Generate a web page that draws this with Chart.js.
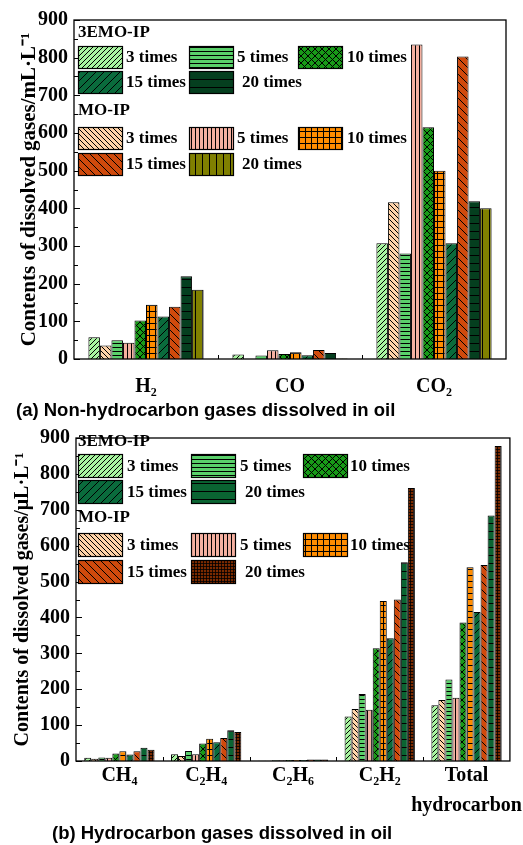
<!DOCTYPE html>
<html>
<head>
<meta charset="utf-8">
<script src="https://cdn.jsdelivr.net/npm/chart.js@4.4.1/dist/chart.umd.min.js"></script>
<style>
  body { margin: 0; background: #fff; }
  #wrap { position: relative; width: 523px; height: 845px; }
  canvas { position: absolute; left: 0; }
  .cap { position: absolute; font: bold 18.5px "Liberation Sans", Arial, sans-serif; line-height: 20px; color: #000; white-space: nowrap; }
</style>
</head>
<body>
<div id="wrap">
  <canvas id="chartA" width="523" height="400" style="top:0"></canvas>
  <div class="cap" style="left:16px;top:400px">(a) Non-hydrocarbon gases dissolved in oil</div>
  <canvas id="chartB" width="523" height="425" style="top:420px"></canvas>
  <div class="cap" style="left:52px;top:823px">(b) Hydrocarbon gases dissolved in oil</div>
</div>
<script>
// Data (a) non-hydrocarbon gases
const gasesA = ["H₂", "CO", "CO₂"];
const emo3A = [58, 12, 307];
const mo3A = [36, 0, 416];
const emo5A = [50, 9, 280];
const mo5A = [43, 23, 835];
const emo10A = [102, 13, 615];
const mo10A = [144, 18, 500];
const emo15A = [113, 10, 307];
const mo15A = [139, 24, 803];
const emo20A = [220, 16, 419];
const mo20A = [184, 1, 400];

// Data (b) hydrocarbon gases
const gasesB = ["CH₄", "C₂H₄", "C₂H₆", "C₂H₂", ["Total", "hydrocarbon"]];
const emo3B = [9, 19, 1, 124, 155];
const mo3B = [6, 14, 1, 145, 170];
const emo5B = [10, 28, 2, 187, 227];
const mo5B = [9, 19, 2, 143, 176];
const emo10B = [21, 49, 3, 314, 386];
const mo10B = [27, 62, 3, 446, 540];
const emo15B = [18, 52, 3, 342, 415];
const mo15B = [27, 64, 4, 450, 546];
const emo20B = [37, 86, 4, 554, 684];
const mo20B = [31, 81, 4, 761, 878];

const times = ["3 times", "5 times", "10 times", "15 times", "20 times"];
const yTicks = [0, 100, 200, 300, 400, 500, 600, 700, 800, 900];

const serif = "Liberation Serif";

function makePattern(target, bg, kind, s, lw) {
  const c = document.createElement("canvas");
  c.width = s;
  c.height = s;
  const g = c.getContext("2d");
  g.fillStyle = bg;
  g.fillRect(0, 0, s, s);
  g.strokeStyle = "#000";
  g.lineWidth = lw || 1;
  g.beginPath();
  if (kind === "fwd" || kind === "cross") {
    g.moveTo(0, s); g.lineTo(s, 0);
    g.moveTo(-1, 1); g.lineTo(1, -1);
    g.moveTo(s - 1, s + 1); g.lineTo(s + 1, s - 1);
  }
  if (kind === "back" || kind === "cross") {
    g.moveTo(0, 0); g.lineTo(s, s);
    g.moveTo(-1, s - 1); g.lineTo(1, s + 1);
    g.moveTo(s - 1, -1); g.lineTo(s + 1, 1);
  }
  if (kind === "horiz" || kind === "grid") {
    g.moveTo(0, s - 0.5); g.lineTo(s, s - 0.5);
  }
  if (kind === "vert" || kind === "grid") {
    g.moveTo(s - 0.5, 0); g.lineTo(s - 0.5, s);
  }
  g.stroke();
  return target.getContext("2d").createPattern(c, "repeat");
}

// frame, inward ticks on y axis, small ticks between categories
const framePlugin = {
  id: "frame",
  afterDatasetsDraw(chart) {
    const { ctx, chartArea: a, scales } = chart;
    ctx.save();
    ctx.strokeStyle = "#000";
    ctx.lineWidth = 1.3;
    ctx.strokeRect(a.left, a.top, a.right - a.left, a.bottom - a.top);
    ctx.lineWidth = 1;
    ctx.beginPath();
    yTicks.forEach((v, i) => {
      const py = Math.round(scales.y.getPixelForValue(v)) + 0.5;
      ctx.moveTo(a.left, py);
      ctx.lineTo(a.left + 6, py);
      if (i < yTicks.length - 1) {
        const pm = Math.round(scales.y.getPixelForValue((v + yTicks[i + 1]) / 2)) + 0.5;
        ctx.moveTo(a.left, pm);
        ctx.lineTo(a.left + 4, pm);
      }
    });
    const n = chart.data.labels.length;
    const w = (a.right - a.left) / n;
    for (let i = 1; i < n; i++) {
      const px = Math.round(a.left + w * i) + 0.5;
      ctx.moveTo(px, a.bottom);
      ctx.lineTo(px, a.bottom - 4);
    }
    ctx.stroke();
    ctx.restore();
  },
};

// two-group legend drawn inside the plot
const groupLegend = {
  id: "groupLegend",
  afterDatasetsDraw(chart, args, opts) {
    const ctx = chart.ctx;
    const ds = chart.data.datasets;
    ctx.save();
    ctx.font = "bold 17px " + serif;
    ctx.textBaseline = "middle";
    ctx.textAlign = "left";
    ctx.lineWidth = 1.2;
    ctx.strokeStyle = "#000";
    opts.groups.forEach((gr) => {
      ctx.fillStyle = "#000";
      ctx.fillText(gr.name, opts.nameX, gr.y);
      gr.items.forEach((di, k) => {
        const col = k % 3;
        const row = Math.floor(k / 3);
        const bx = opts.boxX[col];
        const by = gr.rows[row];
        ctx.fillStyle = ds[di].backgroundColor;
        ctx.fillRect(bx, by, 44, opts.boxH);
        ctx.strokeRect(bx + 0.5, by + 0.5, 44, opts.boxH);
        ctx.fillStyle = "#000";
        const extra = row === 1 && col === 1 ? 5 : 0;
        ctx.fillText(times[k], opts.textX[col] + extra, by + opts.boxH / 2 + 1);
      });
    });
    ctx.restore();
  },
};

function buildChart(id, labels, series, styles, cfg) {
  const canvas = document.getElementById(id);
  const datasets = series.map((d, i) => ({
    label: (i % 2 === 0 ? "3EMO-IP " : "MO-IP ") + times[Math.floor(i / 2)],
    data: d,
    backgroundColor: makePattern(canvas, ...styles[i]),
    borderColor: "#000",
    borderWidth: 1,
  }));
  const tickFont = { family: serif, size: 20, weight: "bold" };
  return new Chart(canvas, {
    type: "bar",
    data: { labels: labels, datasets: datasets },
    options: {
      responsive: false,
      animation: false,
      layout: { padding: { top: cfg.top, right: cfg.right, left: 0, bottom: 0 } },
      datasets: { bar: { categoryPercentage: cfg.catPct, barPercentage: 1 } },
      plugins: {
        legend: { display: false },
        tooltip: { enabled: false },
        groupLegend: cfg.legend,
      },
      scales: {
        x: {
          grid: { display: false, drawTicks: false },
          border: { display: false },
          ticks: {
            color: "#000",
            padding: cfg.xPad,
            font: { ...tickFont, lineHeight: 1.5 },
            maxRotation: 0,
            autoSkip: false,
          },
          afterFit(s) { s.height = cfg.xHeight; },
        },
        y: {
          min: 0,
          max: 900,
          grid: { display: false, drawTicks: false },
          border: { display: false },
          ticks: { stepSize: 100, color: "#000", padding: 6, font: tickFont },
          title: {
            display: true,
            text: cfg.yTitle,
            color: "#000",
            font: { family: serif, size: cfg.titleSize, weight: "bold" },
            padding: { top: cfg.titlePad, bottom: 0 },
          },
          afterFit(s) { s.width = cfg.yWidth; },
        },
      },
    },
    plugins: [framePlugin, groupLegend],
  });
}

buildChart(
  "chartA",
  gasesA,
  [emo3A, mo3A, emo5A, mo5A, emo10A, mo10A, emo15A, mo15A, emo20A, mo20A],
  [
    ["#a8f5a0", "fwd", 5, 1],
    ["#ffd3a8", "back", 5, 1],
    ["#5ad06a", "horiz", 4, 1],
    ["#f5b0a0", "vert", 4, 1],
    ["#189a18", "cross", 7, 1],
    ["#ff8c00", "grid", 6, 1],
    ["#0a6b3c", "fwd", 8, 1],
    ["#d04a0c", "back", 8, 1],
    ["#053f1f", "horiz", 8, 1],
    ["#808000", "vert", 7, 1],
  ],
  {
    top: 20, right: 17, catPct: 0.8, xPad: 13, xHeight: 41, yWidth: 74, titlePad: 17, titleSize: 21,
    yTitle: "Contents of dissolved gases/mL·L⁻¹",
    legend: {
      nameX: 78, boxH: 22,
      boxX: [78, 189, 298], textX: [126, 237, 347],
      groups: [
        { name: "3EMO-IP", y: 33, rows: [46, 71], items: [0, 2, 4, 6, 8] },
        { name: "MO-IP", y: 111, rows: [127, 153], items: [1, 3, 5, 7, 9] },
      ],
    },
  }
);

buildChart(
  "chartB",
  gasesB,
  [emo3B, mo3B, emo5B, mo5B, emo10B, mo10B, emo15B, mo15B, emo20B, mo20B],
  [
    ["#a8f5a0", "fwd", 5, 1],
    ["#ffd3a8", "back", 5, 1],
    ["#5ad06a", "horiz", 4, 1],
    ["#f5b0a0", "vert", 4, 1],
    ["#189a18", "cross", 7, 1],
    ["#ff8c00", "grid", 6, 1],
    ["#0a6b3c", "fwd", 8, 1],
    ["#d04a0c", "back", 8, 1],
    ["#0a6432", "horiz", 8, 1],
    ["#7a2a00", "grid", 3, 0.8],
  ],
  {
    top: 11, right: 11, catPct: 0.81, xPad: 0, xHeight: 84, yWidth: 76, titlePad: 11, titleSize: 20,
    yTitle: "Contents of dissolved gases/μL·L⁻¹",
    legend: {
      nameX: 78, boxH: 23,
      boxX: [78, 191, 303], textX: [127, 240, 350],
      groups: [
        { name: "3EMO-IP", y: 22, rows: [34, 60], items: [0, 2, 4, 6, 8] },
        { name: "MO-IP", y: 98, rows: [113, 140], items: [1, 3, 5, 7, 9] },
      ],
    },
  }
);
</script>
</body>
</html>
